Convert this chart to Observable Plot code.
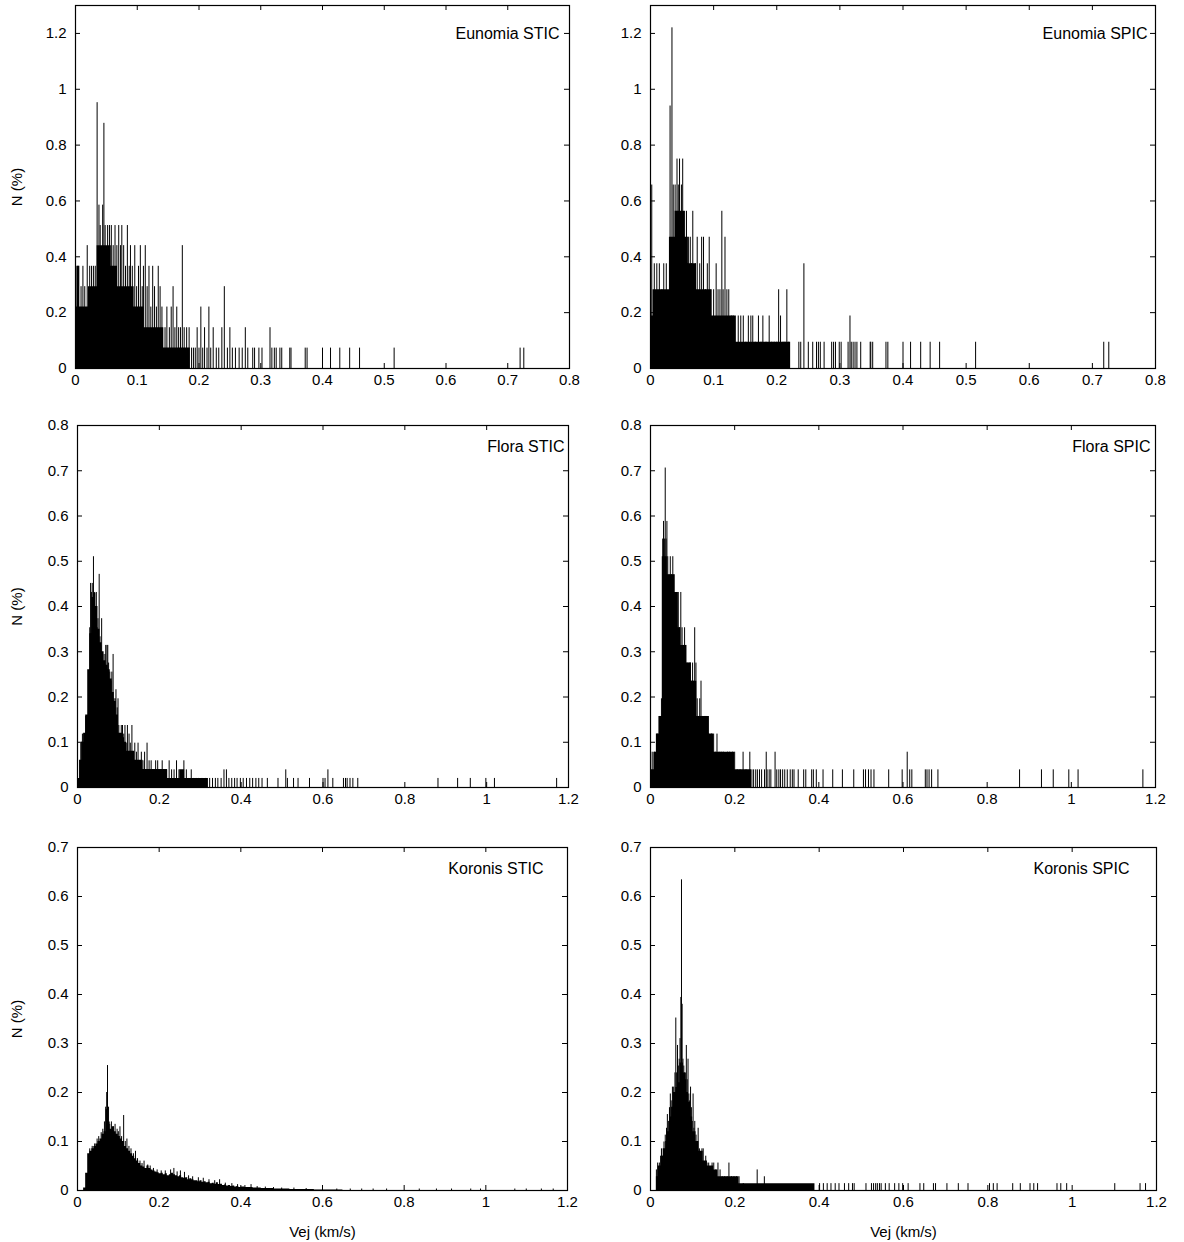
<!DOCTYPE html>
<html>
<head>
<meta charset="utf-8">
<script src="https://cdn.jsdelivr.net/npm/d3@7"></script>
<script src="https://cdn.jsdelivr.net/npm/@observablehq/plot@0.6"></script>
<style>
  html, body { margin: 0; padding: 0; background: #fff; }
  #root { position: relative; width: 1184px; height: 1242px; background: #fff; overflow: hidden; }
  #root > div { position: absolute; }
</style>
</head>
<body>
<div id="root"></div>
<script>
// ---------- Tick labels ----------
const xTicksEunomia = [0, 0.1, 0.2, 0.3, 0.4, 0.5, 0.6, 0.7, 0.8];
const xTicksWide = [0, 0.2, 0.4, 0.6, 0.8, 1, 1.2];
const yTicksEunomia = [0, 0.2, 0.4, 0.6, 0.8, 1, 1.2];
const yTicksFlora = [0, 0.1, 0.2, 0.3, 0.4, 0.5, 0.6, 0.7, 0.8];
const yTicksKoronis = [0, 0.1, 0.2, 0.3, 0.4, 0.5, 0.6, 0.7];
const panelTitles = ["Eunomia STIC", "Eunomia SPIC", "Flora STIC", "Flora SPIC", "Koronis STIC", "Koronis SPIC"];
const yAxisTitle = "N (%)";
const xAxisTitle = "Vej (km/s)";

// ---------- Eunomia STIC : dense core [v, N] and impulses [v, N] ----------
const eunomiaSticCore = [[0.000,0.220],[0.003,0.366],[0.007,0.220],[0.021,0.293],[0.035,0.440],[0.058,0.366],[0.068,0.293],[0.095,0.220],[0.111,0.146],[0.143,0.073],[0.186,0.000]];
const eunomiaSticSpikes = [[0.001,0.366],[0.004,0.366],[0.009,0.293],[0.012,0.366],[0.015,0.293],[0.019,0.440],[0.023,0.366],[0.026,0.366],[0.029,0.366],[0.032,0.366],[0.035,0.952],[0.038,0.585],[0.040,0.512],[0.044,0.585],[0.046,0.878],[0.048,0.512],[0.052,0.512],[0.055,0.512],[0.058,0.512],[0.061,0.440],[0.064,0.512],[0.067,0.440],[0.070,0.512],[0.073,0.440],[0.075,0.512],[0.078,0.440],[0.081,0.366],[0.084,0.512],[0.087,0.366],[0.089,0.440],[0.092,0.366],[0.096,0.440],[0.099,0.293],[0.102,0.366],[0.105,0.440],[0.108,0.293],[0.110,0.366],[0.113,0.440],[0.116,0.293],[0.119,0.366],[0.122,0.220],[0.125,0.366],[0.128,0.293],[0.131,0.220],[0.134,0.366],[0.137,0.293],[0.140,0.220],[0.145,0.146],[0.148,0.220],[0.152,0.146],[0.155,0.220],[0.158,0.293],[0.161,0.146],[0.164,0.220],[0.167,0.146],[0.170,0.146],[0.173,0.440],[0.176,0.146],[0.180,0.146],[0.184,0.146],[0.188,0.073],[0.191,0.073],[0.194,0.073],[0.197,0.146],[0.200,0.073],[0.203,0.220],[0.206,0.073],[0.209,0.146],[0.213,0.073],[0.216,0.220],[0.219,0.073],[0.223,0.146],[0.228,0.073],[0.232,0.073],[0.237,0.146],[0.241,0.293],[0.246,0.073],[0.250,0.146],[0.254,0.073],[0.259,0.073],[0.265,0.073],[0.270,0.073],[0.275,0.146],[0.279,0.073],[0.287,0.073],[0.290,0.073],[0.297,0.073],[0.302,0.073],[0.315,0.146],[0.318,0.073],[0.322,0.073],[0.325,0.073],[0.331,0.073],[0.334,0.073],[0.347,0.073],[0.349,0.073],[0.372,0.073],[0.375,0.073],[0.400,0.073],[0.413,0.073],[0.428,0.073],[0.444,0.073],[0.460,0.073],[0.516,0.073],[0.720,0.073],[0.726,0.073]];

// ---------- Eunomia SPIC ----------
const eunomiaSpicCore = [[0.000,0.188],[0.004,0.282],[0.030,0.470],[0.039,0.563],[0.054,0.470],[0.060,0.375],[0.073,0.282],[0.097,0.188],[0.136,0.094],[0.222,0.000]];
const eunomiaSpicSpikes = [[0.002,0.657],[0.006,0.375],[0.010,0.375],[0.014,0.375],[0.018,0.282],[0.021,0.375],[0.025,0.375],[0.031,0.940],[0.034,1.220],[0.036,0.657],[0.039,0.657],[0.042,0.750],[0.044,0.657],[0.046,0.750],[0.049,0.657],[0.051,0.750],[0.054,0.563],[0.057,0.563],[0.060,0.470],[0.063,0.470],[0.065,0.375],[0.067,0.563],[0.071,0.375],[0.074,0.470],[0.078,0.375],[0.081,0.470],[0.084,0.470],[0.087,0.282],[0.090,0.375],[0.093,0.470],[0.096,0.282],[0.100,0.282],[0.104,0.375],[0.107,0.282],[0.110,0.282],[0.113,0.563],[0.115,0.282],[0.118,0.470],[0.121,0.282],[0.124,0.282],[0.128,0.188],[0.131,0.188],[0.139,0.188],[0.143,0.188],[0.147,0.188],[0.151,0.094],[0.155,0.188],[0.159,0.188],[0.162,0.188],[0.166,0.094],[0.171,0.188],[0.175,0.094],[0.178,0.188],[0.183,0.094],[0.188,0.188],[0.192,0.094],[0.196,0.094],[0.200,0.094],[0.203,0.282],[0.206,0.188],[0.210,0.094],[0.213,0.094],[0.216,0.282],[0.219,0.094],[0.235,0.094],[0.238,0.094],[0.243,0.375],[0.250,0.094],[0.257,0.094],[0.263,0.094],[0.266,0.094],[0.269,0.094],[0.275,0.094],[0.287,0.094],[0.290,0.094],[0.293,0.094],[0.299,0.094],[0.302,0.094],[0.313,0.094],[0.316,0.188],[0.318,0.094],[0.321,0.094],[0.324,0.094],[0.327,0.094],[0.333,0.094],[0.348,0.094],[0.349,0.094],[0.352,0.094],[0.373,0.094],[0.376,0.094],[0.400,0.094],[0.412,0.094],[0.428,0.094],[0.443,0.094],[0.458,0.094],[0.515,0.094],[0.718,0.094],[0.726,0.094]];

// ---------- Flora STIC ----------
const floraSticCore = [[0.000,0.020],[0.005,0.060],[0.010,0.100],[0.015,0.120],[0.020,0.160],[0.025,0.260],[0.030,0.340],[0.035,0.420],[0.040,0.430],[0.045,0.400],[0.050,0.350],[0.055,0.320],[0.060,0.300],[0.065,0.280],[0.070,0.270],[0.075,0.260],[0.080,0.240],[0.085,0.210],[0.090,0.190],[0.095,0.160],[0.100,0.120],[0.105,0.120],[0.110,0.110],[0.115,0.100],[0.120,0.080],[0.130,0.080],[0.140,0.060],[0.150,0.060],[0.160,0.040],[0.180,0.040],[0.200,0.040],[0.220,0.020],[0.250,0.039],[0.262,0.020],[0.320,0.000]];
const floraSticSpikes = [[0.008,0.098],[0.012,0.118],[0.016,0.118],[0.020,0.157],[0.024,0.157],[0.027,0.235],[0.030,0.353],[0.032,0.451],[0.034,0.431],[0.036,0.451],[0.038,0.412],[0.039,0.510],[0.041,0.431],[0.043,0.392],[0.046,0.431],[0.048,0.353],[0.050,0.373],[0.053,0.471],[0.055,0.333],[0.057,0.314],[0.059,0.373],[0.062,0.294],[0.064,0.275],[0.067,0.294],[0.069,0.314],[0.072,0.314],[0.074,0.314],[0.076,0.275],[0.079,0.255],[0.082,0.235],[0.084,0.255],[0.087,0.294],[0.089,0.196],[0.092,0.196],[0.094,0.216],[0.097,0.176],[0.099,0.196],[0.101,0.137],[0.104,0.118],[0.107,0.137],[0.110,0.137],[0.113,0.118],[0.116,0.137],[0.119,0.098],[0.122,0.137],[0.126,0.118],[0.129,0.098],[0.133,0.137],[0.136,0.078],[0.140,0.098],[0.144,0.078],[0.148,0.098],[0.152,0.059],[0.156,0.078],[0.160,0.059],[0.164,0.078],[0.170,0.098],[0.175,0.059],[0.180,0.059],[0.186,0.039],[0.191,0.059],[0.196,0.059],[0.202,0.039],[0.207,0.059],[0.212,0.039],[0.218,0.039],[0.224,0.059],[0.230,0.039],[0.236,0.039],[0.242,0.059],[0.248,0.039],[0.254,0.020],[0.260,0.059],[0.266,0.039],[0.272,0.020],[0.278,0.039],[0.284,0.020],[0.290,0.020],[0.296,0.020],[0.304,0.020],[0.313,0.020],[0.323,0.020],[0.330,0.020],[0.337,0.020],[0.343,0.020],[0.351,0.020],[0.358,0.039],[0.364,0.039],[0.370,0.020],[0.377,0.020],[0.384,0.020],[0.390,0.020],[0.398,0.020],[0.405,0.020],[0.413,0.020],[0.421,0.020],[0.428,0.020],[0.436,0.020],[0.443,0.020],[0.451,0.020],[0.464,0.020],[0.490,0.020],[0.509,0.039],[0.513,0.020],[0.528,0.020],[0.539,0.020],[0.567,0.020],[0.600,0.020],[0.605,0.020],[0.612,0.039],[0.624,0.020],[0.650,0.020],[0.655,0.020],[0.659,0.020],[0.666,0.020],[0.673,0.020],[0.685,0.020],[0.881,0.020],[0.929,0.020],[0.960,0.020],[0.998,0.020],[1.019,0.020],[1.171,0.020]];

// ---------- Flora SPIC ----------
const floraSpicCore = [[0.000,0.039],[0.008,0.078],[0.014,0.118],[0.020,0.157],[0.028,0.510],[0.040,0.470],[0.058,0.431],[0.066,0.353],[0.072,0.314],[0.086,0.275],[0.097,0.235],[0.110,0.157],[0.140,0.118],[0.150,0.078],[0.200,0.039],[0.240,0.000]];
const floraSpicSpikes = [[0.004,0.078],[0.010,0.078],[0.016,0.118],[0.022,0.157],[0.026,0.196],[0.029,0.549],[0.031,0.588],[0.033,0.549],[0.035,0.706],[0.037,0.549],[0.039,0.588],[0.041,0.510],[0.044,0.470],[0.047,0.510],[0.050,0.470],[0.053,0.510],[0.056,0.470],[0.060,0.392],[0.063,0.431],[0.066,0.431],[0.069,0.353],[0.072,0.431],[0.075,0.353],[0.078,0.314],[0.081,0.353],[0.084,0.314],[0.087,0.275],[0.090,0.196],[0.092,0.275],[0.095,0.275],[0.098,0.235],[0.100,0.275],[0.103,0.235],[0.105,0.353],[0.108,0.275],[0.111,0.196],[0.114,0.157],[0.117,0.196],[0.120,0.235],[0.123,0.157],[0.126,0.118],[0.129,0.157],[0.132,0.157],[0.135,0.118],[0.138,0.118],[0.141,0.078],[0.145,0.118],[0.150,0.118],[0.154,0.078],[0.158,0.118],[0.163,0.078],[0.168,0.078],[0.173,0.078],[0.178,0.039],[0.183,0.078],[0.188,0.078],[0.195,0.078],[0.200,0.078],[0.206,0.039],[0.213,0.039],[0.220,0.078],[0.227,0.039],[0.236,0.078],[0.241,0.039],[0.245,0.039],[0.250,0.039],[0.254,0.039],[0.259,0.039],[0.264,0.039],[0.271,0.039],[0.275,0.078],[0.277,0.039],[0.282,0.039],[0.286,0.039],[0.296,0.078],[0.300,0.039],[0.305,0.039],[0.309,0.039],[0.314,0.039],[0.319,0.039],[0.325,0.039],[0.332,0.039],[0.337,0.039],[0.341,0.039],[0.351,0.039],[0.364,0.039],[0.369,0.039],[0.383,0.039],[0.387,0.039],[0.394,0.039],[0.410,0.039],[0.433,0.039],[0.456,0.039],[0.483,0.039],[0.506,0.039],[0.511,0.039],[0.518,0.039],[0.524,0.039],[0.531,0.039],[0.566,0.039],[0.598,0.039],[0.610,0.078],[0.616,0.039],[0.621,0.039],[0.653,0.039],[0.657,0.039],[0.662,0.039],[0.668,0.039],[0.683,0.039],[0.877,0.039],[0.929,0.039],[0.957,0.039],[0.994,0.039],[1.016,0.039],[1.170,0.039]];

// ---------- Koronis STIC ----------
const koronisSticCore = [[0.010,0.000],[0.015,0.005],[0.020,0.035],[0.025,0.075],[0.030,0.080],[0.035,0.085],[0.040,0.090],[0.045,0.095],[0.050,0.100],[0.055,0.105],[0.060,0.115],[0.065,0.120],[0.070,0.165],[0.075,0.140],[0.080,0.125],[0.085,0.130],[0.090,0.120],[0.095,0.115],[0.100,0.110],[0.105,0.105],[0.110,0.100],[0.115,0.090],[0.120,0.085],[0.125,0.080],[0.130,0.075],[0.135,0.070],[0.140,0.065],[0.145,0.060],[0.150,0.055],[0.155,0.050],[0.160,0.048],[0.165,0.045],[0.170,0.050],[0.175,0.045],[0.180,0.042],[0.185,0.040],[0.190,0.038],[0.195,0.036],[0.200,0.034],[0.205,0.035],[0.210,0.032],[0.215,0.034],[0.220,0.030],[0.225,0.032],[0.230,0.035],[0.235,0.032],[0.240,0.030],[0.245,0.028],[0.250,0.030],[0.255,0.026],[0.260,0.025],[0.265,0.026],[0.270,0.022],[0.275,0.024],[0.280,0.022],[0.285,0.020],[0.290,0.020],[0.295,0.018],[0.300,0.020],[0.305,0.017],[0.310,0.018],[0.315,0.016],[0.320,0.017],[0.325,0.014],[0.330,0.015],[0.335,0.013],[0.340,0.016],[0.345,0.012],[0.350,0.013],[0.355,0.010],[0.360,0.011],[0.365,0.009],[0.370,0.010],[0.375,0.008],[0.380,0.009],[0.385,0.007],[0.390,0.008],[0.395,0.006],[0.400,0.007],[0.410,0.006],[0.420,0.006],[0.430,0.005],[0.440,0.005],[0.450,0.004],[0.460,0.004],[0.470,0.004],[0.480,0.003],[0.490,0.003],[0.500,0.003],[0.520,0.002],[0.540,0.002],[0.560,0.002],[0.580,0.001],[0.600,0.001],[0.620,0.001],[0.650,0.000]];
const koronisSticSpikes = [[0.030,0.085],[0.036,0.090],[0.042,0.095],[0.048,0.105],[0.052,0.110],[0.058,0.118],[0.062,0.125],[0.066,0.140],[0.069,0.170],[0.0715,0.200],[0.0735,0.255],[0.076,0.170],[0.079,0.135],[0.083,0.140],[0.088,0.130],[0.092,0.135],[0.097,0.125],[0.100,0.120],[0.104,0.130],[0.108,0.110],[0.113,0.153],[0.117,0.100],[0.121,0.105],[0.126,0.090],[0.131,0.085],[0.137,0.075],[0.142,0.080],[0.147,0.065],[0.153,0.060],[0.158,0.055],[0.163,0.060],[0.172,0.052],[0.178,0.050],[0.186,0.045],[0.195,0.042],[0.205,0.040],[0.215,0.040],[0.228,0.042],[0.236,0.045],[0.244,0.038],[0.252,0.040],[0.262,0.037],[0.272,0.030],[0.282,0.028],[0.296,0.026],[0.308,0.025],[0.322,0.022],[0.336,0.020],[0.348,0.022],[0.362,0.015],[0.378,0.014],[0.392,0.012],[0.410,0.010],[0.425,0.012],[0.440,0.008],[0.460,0.007],[0.480,0.006],[0.500,0.005],[0.530,0.005],[0.560,0.004],[0.600,0.008],[0.635,0.003],[0.668,0.003],[0.696,0.003],[0.724,0.003],[0.757,0.003],[0.837,0.003],[0.879,0.003],[0.916,0.003],[0.963,0.003],[0.987,0.003],[1.071,0.003],[1.099,0.003],[1.136,0.003],[1.165,0.003]];

// ---------- Koronis SPIC ----------
const koronisSpicCore = [[0.014,0.028],[0.018,0.050],[0.026,0.070],[0.030,0.085],[0.036,0.100],[0.040,0.120],[0.046,0.150],[0.050,0.170],[0.054,0.200],[0.060,0.210],[0.066,0.220],[0.070,0.260],[0.078,0.240],[0.085,0.200],[0.090,0.180],[0.095,0.150],[0.100,0.120],[0.108,0.100],[0.115,0.080],[0.125,0.060],[0.135,0.050],[0.150,0.042],[0.160,0.028],[0.210,0.014],[0.390,0.000]];
const koronisSpicSpikes = [[0.014,0.042],[0.017,0.056],[0.021,0.056],[0.024,0.070],[0.026,0.085],[0.029,0.070],[0.032,0.099],[0.035,0.113],[0.038,0.127],[0.040,0.155],[0.043,0.141],[0.045,0.169],[0.047,0.197],[0.049,0.183],[0.052,0.211],[0.055,0.211],[0.058,0.240],[0.060,0.352],[0.062,0.240],[0.064,0.296],[0.066,0.254],[0.068,0.268],[0.070,0.310],[0.072,0.394],[0.0735,0.634],[0.075,0.380],[0.077,0.268],[0.079,0.254],[0.081,0.240],[0.083,0.226],[0.085,0.296],[0.087,0.226],[0.089,0.268],[0.091,0.197],[0.093,0.183],[0.095,0.211],[0.097,0.169],[0.099,0.141],[0.101,0.197],[0.103,0.127],[0.105,0.141],[0.108,0.113],[0.110,0.099],[0.113,0.127],[0.116,0.085],[0.119,0.070],[0.122,0.085],[0.125,0.085],[0.128,0.056],[0.131,0.070],[0.134,0.056],[0.138,0.056],[0.142,0.042],[0.146,0.056],[0.150,0.056],[0.155,0.042],[0.160,0.056],[0.165,0.042],[0.170,0.028],[0.176,0.028],[0.182,0.028],[0.186,0.056],[0.192,0.028],[0.198,0.028],[0.204,0.028],[0.210,0.028],[0.220,0.014],[0.253,0.042],[0.270,0.028],[0.401,0.014],[0.410,0.014],[0.419,0.014],[0.428,0.014],[0.438,0.014],[0.447,0.014],[0.460,0.014],[0.470,0.014],[0.479,0.014],[0.483,0.014],[0.511,0.014],[0.524,0.014],[0.529,0.014],[0.534,0.014],[0.538,0.014],[0.543,0.014],[0.547,0.014],[0.557,0.014],[0.566,0.014],[0.579,0.014],[0.589,0.014],[0.598,0.014],[0.611,0.014],[0.639,0.014],[0.648,0.014],[0.671,0.014],[0.676,0.014],[0.703,0.014],[0.730,0.014],[0.753,0.014],[0.804,0.014],[0.813,0.014],[0.822,0.014],[0.859,0.014],[0.877,0.014],[0.900,0.014],[0.909,0.014],[0.918,0.014],[0.964,0.014],[0.973,0.014],[0.987,0.014],[1.101,0.014],[1.161,0.014],[1.174,0.014]];

// ---------- Drawing ----------
const FONT = "'Liberation Sans', Arial, Helvetica, sans-serif";
const fmt = d => String(Math.round(d * 10) / 10);

function panel(cfg) {
  const fw = cfg.width - cfg.ml - cfg.mr;
  const fh = cfg.height - cfg.mt - cfg.mb;
  const tl = 5;
  const marks = [
    Plot.areaY(cfg.core, {x: d => d[0], y: d => d[1], curve: "step-after", fill: "black", clip: true}),
    Plot.ruleX(cfg.spikes, {x: d => d[0], y1: 0, y2: d => d[1], stroke: "black", strokeWidth: 1, clip: true}),
    Plot.tickY(cfg.yTicks, {y: d => d, insetRight: fw - tl, stroke: "black"}),
    Plot.tickY(cfg.yTicks, {y: d => d, insetLeft: fw - tl, stroke: "black"}),
    Plot.tickX(cfg.xTicks, {x: d => d, insetTop: fh - tl, stroke: "black"}),
    Plot.tickX(cfg.xTicks, {x: d => d, insetBottom: fh - tl, stroke: "black"}),
    Plot.frame({stroke: "black", strokeWidth: 1.2}),
    Plot.axisX({ticks: cfg.xTicks, tickSize: 0, tickPadding: 6, tickFormat: fmt, label: null, fontSize: 15}),
    Plot.axisY({ticks: cfg.yTicks, tickSize: 0, tickPadding: 9, tickFormat: fmt, label: null, fontSize: 15}),
    Plot.text([cfg.title], {frameAnchor: "top-right", text: d => d, dx: cfg.tdx, dy: cfg.tdy, textAnchor: "end", lineAnchor: "middle", fontSize: 16, fill: "black"})
  ];
  if (cfg.ylabel) marks.push(Plot.text([cfg.ylabel], {frameAnchor: "left", text: d => d, dx: -(cfg.ml - 17), rotate: -90, textAnchor: "middle", lineAnchor: "middle", fontSize: 15, fill: "black"}));
  if (cfg.xlabel) marks.push(Plot.text([cfg.xlabel], {frameAnchor: "bottom", text: d => d, dy: 42, textAnchor: "middle", lineAnchor: "middle", fontSize: 15, fill: "black"}));
  const svg = Plot.plot({
    width: cfg.width, height: cfg.height,
    marginLeft: cfg.ml, marginRight: cfg.mr, marginTop: cfg.mt, marginBottom: cfg.mb,
    x: {domain: cfg.xDomain}, y: {domain: cfg.yDomain},
    style: {fontFamily: FONT, fontSize: "15px", color: "black", background: "white", overflow: "visible"},
    marks
  });
  const holder = document.createElement("div");
  holder.style.left = cfg.left + "px";
  holder.style.top = cfg.top + "px";
  holder.appendChild(svg);
  document.getElementById("root").appendChild(holder);
}

panel({left: 0, top: 0, width: 590, height: 400, ml: 75, mr: 21, mt: 5, mb: 32, core: eunomiaSticCore, spikes: eunomiaSticSpikes, xDomain: [0, 0.8], yDomain: [0, 1.3], xTicks: xTicksEunomia, yTicks: yTicksEunomia, title: panelTitles[0], tdx: -10, tdy: 28, ylabel: yAxisTitle});
panel({left: 590, top: 0, width: 594, height: 400, ml: 60, mr: 29, mt: 5, mb: 32, core: eunomiaSpicCore, spikes: eunomiaSpicSpikes, xDomain: [0, 0.8], yDomain: [0, 1.3], xTicks: xTicksEunomia, yTicks: yTicksEunomia, title: panelTitles[1], tdx: -8, tdy: 28});
panel({left: 0, top: 400, width: 590, height: 420, ml: 77, mr: 22, mt: 25, mb: 33, core: floraSticCore, spikes: floraSticSpikes, xDomain: [0, 1.2], yDomain: [0, 0.8], xTicks: xTicksWide, yTicks: yTicksFlora, title: panelTitles[2], tdx: -4, tdy: 21, ylabel: yAxisTitle});
panel({left: 590, top: 400, width: 594, height: 420, ml: 60, mr: 29, mt: 25, mb: 33, core: floraSpicCore, spikes: floraSpicSpikes, xDomain: [0, 1.2], yDomain: [0, 0.8], xTicks: xTicksWide, yTicks: yTicksFlora, title: panelTitles[3], tdx: -5, tdy: 21});
panel({left: 0, top: 820, width: 590, height: 422, ml: 77, mr: 23, mt: 27, mb: 52, core: koronisSticCore, spikes: koronisSticSpikes, xDomain: [0, 1.2], yDomain: [0, 0.7], xTicks: xTicksWide, yTicks: yTicksKoronis, title: panelTitles[4], tdx: -24, tdy: 21, ylabel: yAxisTitle, xlabel: xAxisTitle});
panel({left: 590, top: 820, width: 594, height: 422, ml: 60, mr: 28, mt: 27, mb: 52, core: koronisSpicCore, spikes: koronisSpicSpikes, xDomain: [0, 1.2], yDomain: [0, 0.7], xTicks: xTicksWide, yTicks: yTicksKoronis, title: panelTitles[5], tdx: -27, tdy: 21, xlabel: xAxisTitle});
</script>
</body>
</html>
